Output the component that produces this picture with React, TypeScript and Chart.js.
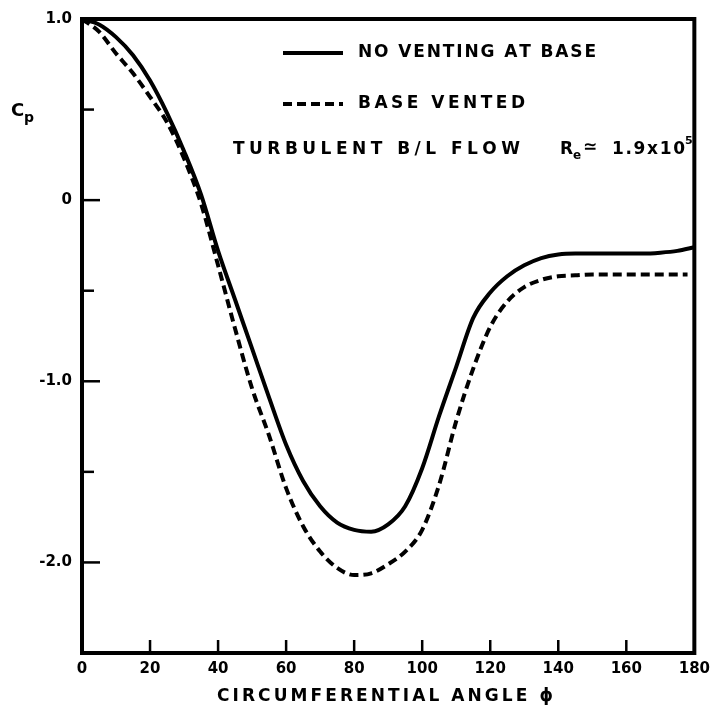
import React, { useEffect, useRef } from 'react';
import { Chart, registerables } from 'chart.js';

Chart.register(...registerables);

// ---- Data ----
const ANGLES_NO_VENT = [0, 5, 10, 15, 20, 25, 30, 35, 40, 45, 50, 55, 60, 65, 70, 75, 80, 85, 90, 95, 100, 105, 110, 115, 120, 125, 130, 135, 140, 145, 150, 155, 160, 165, 170, 175, 180];
const CP_NO_VENT = [1.0, 0.97, 0.9, 0.8, 0.66, 0.48, 0.27, 0.03, -0.28, -0.55, -0.82, -1.09, -1.35, -1.55, -1.69, -1.78, -1.82, -1.83, -1.79, -1.69, -1.48, -1.19, -0.92, -0.65, -0.51, -0.42, -0.36, -0.32, -0.3, -0.295, -0.295, -0.295, -0.295, -0.295, -0.29, -0.28, -0.26];

const ANGLES_VENTED = [0, 5, 10, 15, 20, 25, 30, 35, 40, 45, 50, 55, 60, 65, 70, 75, 80, 85, 90, 95, 100, 105, 110, 115, 120, 125, 130, 135, 140, 145, 150, 155, 160, 165, 170, 178];
const CP_VENTED = [1.0, 0.93, 0.81, 0.7, 0.57, 0.43, 0.23, -0.02, -0.36, -0.71, -1.04, -1.3, -1.59, -1.8, -1.94, -2.03, -2.07, -2.06, -2.01, -1.94, -1.82, -1.57, -1.22, -0.93, -0.7, -0.56, -0.48, -0.44, -0.42, -0.415, -0.41, -0.41, -0.41, -0.41, -0.41, -0.41];

const X_MIN = 0;
const X_MAX = 180;
const X_STEP = 20;
const Y_MIN = -2.5;
const Y_MAX = 1.0;
const Y_STEP = 0.5;
const Y_LABELED = [1.0, 0, -1.0, -2.0];

const SERIES_NAMES = ['NO VENTING AT BASE', 'BASE VENTED'];
const NOTE_TEXT = 'TURBULENT B/L FLOW';
const RE_VALUE = '1.9x10';
const RE_EXP = '5';
const X_TITLE = 'CIRCUMFERENTIAL ANGLE ϕ';
const Y_TITLE = 'C';
const Y_TITLE_SUB = 'p';

const FONT = '"DejaVu Sans", "Liberation Sans", sans-serif';
const DASH = [9, 5];

function spaced(ctx: CanvasRenderingContext2D, text: string, x: number, y: number, width: number) {
  const chars = Array.from(text);
  const widths = chars.map((c) => ctx.measureText(c).width);
  const total = widths.reduce((a, b) => a + b, 0);
  const gap = chars.length > 1 ? (width - total) / (chars.length - 1) : 0;
  let cx = x;
  ctx.textAlign = 'left';
  chars.forEach((c, i) => {
    ctx.fillText(c, cx, y);
    cx += widths[i] + gap;
  });
}

const decorPlugin = {
  id: 'decor',
  afterDatasetsDraw(chart: any) {
    const { ctx, chartArea: a, scales } = chart;
    const x = scales.x;
    const y = scales.y;
    ctx.save();
    ctx.strokeStyle = '#000';
    ctx.fillStyle = '#000';
    // frame
    ctx.lineWidth = 4;
    ctx.strokeRect(a.left, a.top, a.right - a.left, a.bottom - a.top);
    // inner y ticks
    ctx.lineWidth = 2.5;
    for (let v = Y_MIN; v <= Y_MAX + 1e-9; v += Y_STEP) {
      const py = y.getPixelForValue(v);
      const len = Y_LABELED.some((l) => Math.abs(l - v) < 1e-9) ? 18 : 12;
      ctx.beginPath();
      ctx.moveTo(a.left, py);
      ctx.lineTo(a.left + len, py);
      ctx.stroke();
    }
    // inner x ticks
    for (let v = X_MIN + X_STEP; v < X_MAX; v += X_STEP) {
      const px = x.getPixelForValue(v);
      ctx.beginPath();
      ctx.moveTo(px, a.bottom);
      ctx.lineTo(px, a.bottom - 13);
      ctx.stroke();
    }

    // legend samples
    ctx.lineWidth = 4;
    ctx.beginPath();
    ctx.moveTo(283, 53);
    ctx.lineTo(343, 53);
    ctx.stroke();
    ctx.setLineDash(DASH);
    ctx.beginPath();
    ctx.moveTo(283, 104);
    ctx.lineTo(343, 104);
    ctx.stroke();
    ctx.setLineDash([]);

    ctx.textBaseline = 'middle';
    ctx.font = `bold 17px ${FONT}`;
    spaced(ctx, SERIES_NAMES[0], 358, 53, 238);
    spaced(ctx, SERIES_NAMES[1], 358, 104, 167);
    spaced(ctx, NOTE_TEXT, 233, 150, 287);

    // Re ≃ 1.9x10^5
    ctx.fillText('R', 560, 150);
    ctx.font = `bold 12px ${FONT}`;
    ctx.fillText('e', 573, 156);
    ctx.font = `bold 17px ${FONT}`;
    ctx.fillText('≃', 583, 148);
    ctx.font = `bold 17px ${FONT}`;
    spaced(ctx, RE_VALUE, 612, 150, 73);
    ctx.font = `bold 11px ${FONT}`;
    ctx.fillText(RE_EXP, 685, 141);

    // axis titles
    ctx.font = `bold 17px ${FONT}`;
    spaced(ctx, X_TITLE, 217, 697, 336);
    ctx.font = `bold 18px ${FONT}`;
    ctx.fillText(Y_TITLE, 11, 111);
    ctx.font = `bold 14px ${FONT}`;
    ctx.fillText(Y_TITLE_SUB, 24, 118);

    ctx.restore();
  },
};

export default function App() {
  const ref = useRef<HTMLCanvasElement | null>(null);

  useEffect(() => {
    if (!ref.current) return;
    const chart = new Chart(ref.current, {
      type: 'line',
      data: {
        datasets: [
          {
            label: SERIES_NAMES[0],
            data: ANGLES_NO_VENT.map((a, i) => ({ x: a, y: CP_NO_VENT[i] })),
            borderColor: '#000',
            borderWidth: 4,
            pointRadius: 0,
            cubicInterpolationMode: 'monotone',
            fill: false,
          },
          {
            label: SERIES_NAMES[1],
            data: ANGLES_VENTED.map((a, i) => ({ x: a, y: CP_VENTED[i] })),
            borderColor: '#000',
            borderWidth: 4,
            borderDash: DASH,
            pointRadius: 0,
            cubicInterpolationMode: 'monotone',
            fill: false,
          },
        ],
      },
      options: {
        responsive: false,
        animation: false,
        events: [],
        layout: { padding: { top: 16, right: 20, left: 0, bottom: 0 } },
        plugins: { legend: { display: false }, tooltip: { enabled: false }, title: { display: false } },
        scales: {
          x: {
            type: 'linear',
            min: X_MIN,
            max: X_MAX,
            grid: { display: false, drawTicks: false },
            border: { display: false },
            ticks: {
              stepSize: X_STEP,
              color: '#000',
              padding: 7,
              maxRotation: 0,
              font: { family: FONT, size: 15, weight: 'bold' },
              callback: (v: any) => String(v),
            },
            afterFit: (s: any) => {
              s.height = 58;
            },
          },
          y: {
            type: 'linear',
            min: Y_MIN,
            max: Y_MAX,
            grid: { display: false, drawTicks: false },
            border: { display: false },
            ticks: {
              stepSize: Y_STEP,
              color: '#000',
              padding: 10,
              font: { family: FONT, size: 15, weight: 'bold' },
              callback: (v: any) => {
                const n = Number(v);
                if (!Y_LABELED.some((l) => Math.abs(l - n) < 1e-9)) return '';
                return n === 0 ? '0' : n.toFixed(1);
              },
            },
            afterFit: (s: any) => {
              s.width = 82;
            },
          },
        },
      },
      plugins: [decorPlugin],
    } as any);
    return () => chart.destroy();
  }, []);

  return (
    <div style={{ position: 'fixed', left: 0, top: 0, width: 717, height: 711, background: '#fff' }}>
      <canvas ref={ref} width={717} height={711} style={{ display: 'block' }} />
    </div>
  );
}
